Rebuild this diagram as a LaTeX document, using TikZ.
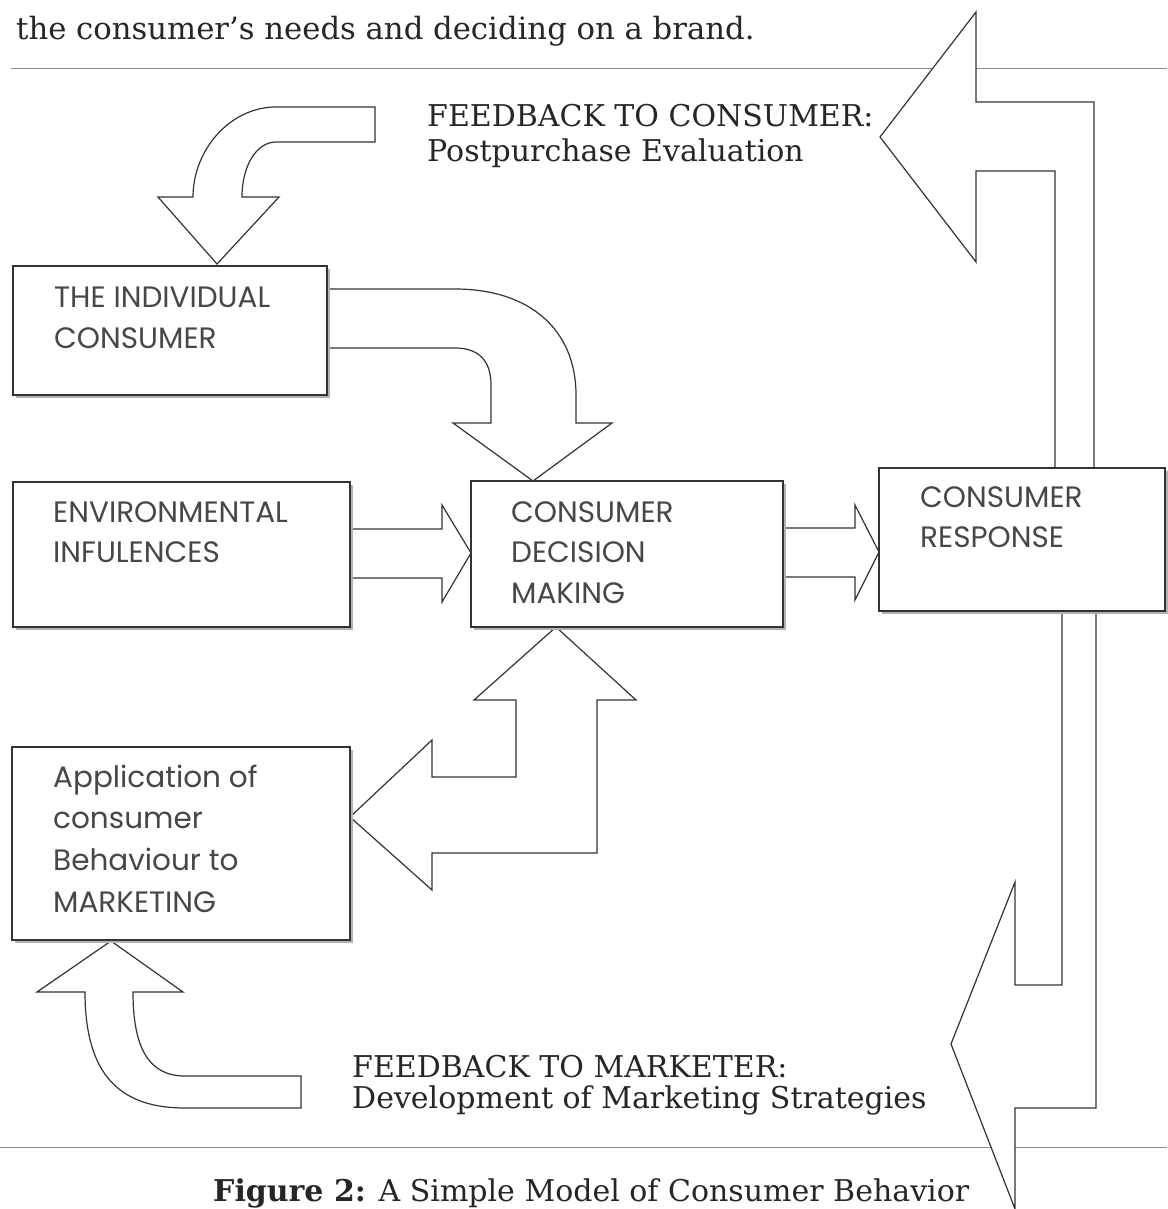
\documentclass[tikz,border=0pt]{standalone}
\usepackage{fontspec}
\setmainfont{DejaVu Serif}
\newfontfamily\boxfont{Poppins}
\usetikzlibrary{shadows}
\definecolor{ink}{HTML}{333333}
\definecolor{boxink}{HTML}{474747}
\begin{document}
\begin{tikzpicture}[x=1pt,y=-1pt,
  blk/.style={draw=ink, line width=1.2pt, fill=white, line join=miter},
  box/.style={draw=ink, line width=1.4pt, fill=white, inner sep=0pt, outer sep=0pt,
     drop shadow={shadow xshift=2.5pt, shadow yshift=-2.5pt, fill=black!30, opacity=1}},
  btxt/.style={anchor=base west, inner sep=0pt, text=boxink, font=\boxfont\fontsize{29.5}{40}\selectfont},
  stxt/.style={anchor=base west, inner sep=0pt, text=black!85, font=\fontsize{30}{35}\selectfont},
  rulel/.style={draw=black!45, line width=1pt}]
\useasboundingbox[fill=white] (0,0) rectangle (1167,1209);

% page rules
\draw[rulel] (11,69) -- (1167,69);
\draw[rulel] (0,1147) -- (1167,1147);

% texts (serif)
\node[stxt, font=\fontsize{30.7}{35}\selectfont] (toptext) at (16,40) {the consumer’s needs and deciding on a brand.};
\node[stxt] (fbc) at (427,127) {\vtop{\baselineskip=35pt\hbox{FEEDBACK TO CONSUMER:}\hbox{Postpurchase Evaluation}}};
\node[stxt] (fbm) at (352,1077) {\vtop{\baselineskip=31pt\hbox{FEEDBACK TO MARKETER:}\hbox{Development of Marketing Strategies}}};
\node[stxt] (caption) at (213,1201) {\textbf{Figure 2:} A Simple Model of Consumer Behavior};

% block arrows
% feedback into individual consumer (top-left curved)
\draw[blk] (375,107) -- (276,107) .. controls (230,107) and (193,150) .. (193,197)
  -- (158,197) -- (217,264) -- (279,197) -- (242,197)
  .. controls (242,165) and (257,142) .. (276,142) -- (375,142) -- cycle;
% individual consumer -> decision making (curved)
\draw[blk] (327,289) -- (455,289) .. controls (530,289) and (576,330) .. (576,395)
  -- (576,423) -- (612,423) -- (533,481) -- (453,423) -- (491,423) -- (491,385)
  .. controls (491,360) and (478,348) .. (455,348) -- (327,348) -- cycle;
% environmental -> decision making
\draw[blk] (350,529) -- (442,529) -- (442,505) -- (471,553) -- (442,602) -- (442,578) -- (350,578) -- cycle;
% decision making -> response
\draw[blk] (783,528) -- (855,528) -- (855,505) -- (879,552) -- (855,600) -- (855,577) -- (783,577) -- cycle;
% decision making <-> application (bent)
\draw[blk] (556,627) -- (636,700) -- (597,700) -- (597,853) -- (432,853) -- (432,890)
  -- (350,817) -- (432,740) -- (432,777) -- (516,777) -- (516,700) -- (474,700) -- cycle;
% feedback to marketer into application (bottom-left curved)
\draw[blk] (111,941) -- (183,992) -- (133,992) .. controls (133,1050) and (150,1076) .. (185,1076)
  -- (301,1076) -- (301,1108) -- (185,1108) .. controls (120,1108) and (85,1075) .. (85,992)
  -- (37,992) -- cycle;
% response -> feedback to consumer (top-right)
\draw[blk] (880,137) -- (976,12) -- (976,102) -- (1094,102) -- (1094,468) -- (1055,468)
  -- (1055,171) -- (976,171) -- (976,262) -- cycle;
% response -> feedback to marketer (bottom-right)
\draw[blk] (1062,611) -- (1062,985) -- (1015,985) -- (1015,882) -- (951,1044) -- (1015,1209)
  -- (1015,1108) -- (1096,1108) -- (1096,611) -- cycle;

% boxes
\node[box, minimum width=314pt, minimum height=129pt] (ind) at (170,330.5) {};
\node[box, minimum width=337pt, minimum height=145pt] (env) at (181.5,554.5) {};
\node[box, minimum width=312pt, minimum height=146pt] (cdm) at (627,554) {};
\node[box, minimum width=286pt, minimum height=143pt] (cr) at (1022,539.5) {};
\node[box, minimum width=338pt, minimum height=193pt] (app) at (181,843.5) {};

% box texts
\node[btxt] (indtxt) at (54,307) {\vtop{\baselineskip=41pt\hbox{THE INDIVIDUAL}\hbox{CONSUMER}}};
\node[btxt] (envtxt) at (53,522) {\vtop{\baselineskip=40pt\hbox{ENVIRONMENTAL}\hbox{INFULENCES}}};
\node[btxt] (cdmtxt) at (511,522) {\vtop{\baselineskip=40.5pt\hbox{CONSUMER}\hbox{DECISION}\hbox{MAKING}}};
\node[btxt] (crtxt) at (920,507) {\vtop{\baselineskip=40pt\hbox{CONSUMER}\hbox{RESPONSE}}};
\node[btxt] (apptxt) at (53,787) {\vtop{\baselineskip=41.7pt\hbox{Application of}\hbox{consumer}\hbox{Behaviour to}\hbox{MARKETING}}};
\end{tikzpicture}
\end{document}
